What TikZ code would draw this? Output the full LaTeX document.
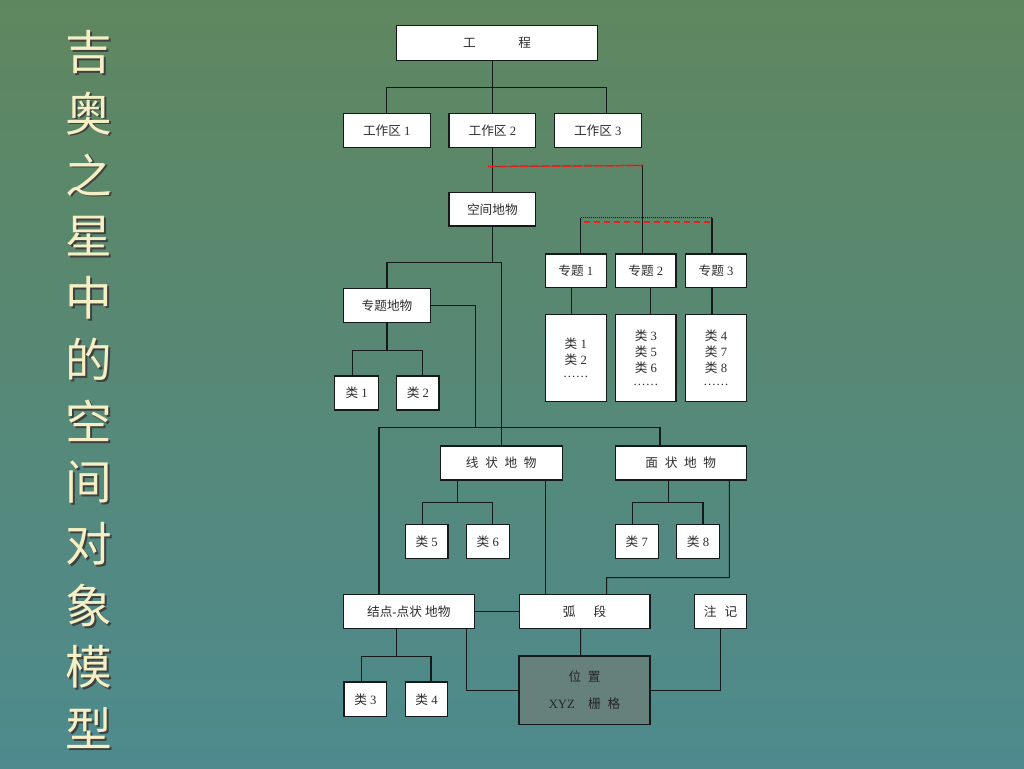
\documentclass[tikz,border=0pt]{standalone}
\usepackage{fontspec}
\setmainfont{Liberation Serif}
\newfontfamily\zh{Noto Sans CJK SC}
\usetikzlibrary{calc}
\definecolor{bgtop}{RGB}{95,135,95}
\definecolor{bgbot}{RGB}{78,138,142}
\definecolor{txt}{RGB}{45,45,45}
\definecolor{cream}{RGB}{244,239,196}
\definecolor{posfill}{RGB}{102,128,123}
\definecolor{ln}{RGB}{20,25,25}
\definecolor{dred}{RGB}{235,30,30}
\newcommand\bx[7][]{\node[box,#1,minimum width={(#5-#3)*0.75pt},minimum height={(#6-#4)*0.75pt}] (#2) at ({(#3+#5)/2},{(#4+#6)/2}) {#7};}
\newcommand\Lei[1]{{\zh 类}~#1}
\tikzset{
  box/.style={draw=ln,fill=white,line width=0.8pt,inner sep=0pt,align=center,text=txt,
    font=\fontsize{9.5}{12}\selectfont},
  conn/.style={draw=ln,line width=0.8pt},
  reddash/.style={draw=dred,line width=1.3pt,dash pattern=on 5pt off 2.5pt},
  blackdot/.style={draw=ln,line width=0.6pt,dash pattern=on 0.6pt off 0.9pt},
  faint/.style={draw=ln,line width=0.5pt,opacity=0.45},
  ttl/.style={text=cream,font=\zh\fontsize{35}{35}\selectfont,inner sep=0pt},
  ttlsh/.style={text=black!75,font=\zh\fontsize{35}{35}\selectfont,inner sep=0pt},
}
\begin{document}
\begin{tikzpicture}[x=0.75pt,y=-0.75pt]
\useasboundingbox (0,0) rectangle (1024,768);
\shade[top color=bgtop,bottom color=bgbot] (0,0) rectangle (1024,768);
% title
\foreach \c [count=\i from 0] in {吉,奥,之,星,中,的,空,间,对,象,模,型}{
  \node[ttlsh] (ts\i) at ({90.5},{53.5+\i*61.5}) {\c};
  \node[ttl] (t\i) at (89,{52+\i*61.5}) {\c};
}
% boxes
\bx{gc}{396.7}{25.7}{597.3}{60.3}{{\zh 工}\hspace{32pt}{\zh 程}}
\bx{w1}{343.3}{113.7}{430.3}{147.3}{{\zh 工作区}~1}
\bx{w2}{449}{113.7}{535.7}{147.3}{{\zh 工作区}~2}
\bx{w3}{554.3}{113.7}{641.3}{147.3}{{\zh 工作区}~3}
\bx{kj}{449}{192.3}{535.7}{226}{{\zh 空间地物}}
\bx{z1}{545.3}{254}{606.3}{287.3}{{\zh 专题}~1}
\bx{z2}{615.7}{254}{676}{287.3}{{\zh 专题}~2}
\bx{z3}{685.7}{254}{746.3}{287.3}{{\zh 专题}~3}
\bx{c1}{545.3}{314.7}{606.3}{401.3}{\Lei1\\\Lei2\\[-2pt]……}
\bx{c2}{615.7}{314.7}{676}{401.3}{\Lei3\\\Lei5\\\Lei6\\[-2pt]……}
\bx{c3}{685.7}{314.7}{746.3}{401.3}{\Lei4\\\Lei7\\\Lei8\\[-2pt]……}
\bx{zd}{343.7}{288.7}{430.3}{322.7}{{\zh 专题地物}}
\bx{a1}{334.7}{376}{378.7}{410}{\Lei1}
\bx{a2}{396.7}{376}{439}{410}{\Lei2}
\bx{xz}{440.3}{446}{562.3}{480}{{\zh 线}\hspace{5pt}{\zh 状}\hspace{5pt}{\zh 地}\hspace{5pt}{\zh 物}}
\bx{mz}{615.3}{446}{746.3}{480}{{\zh 面}\hspace{5pt}{\zh 状}\hspace{5pt}{\zh 地}\hspace{5pt}{\zh 物}}
\bx{l5}{405.3}{524.7}{448}{558.7}{\Lei5}
\bx{l6}{466.3}{524.7}{509.3}{558.7}{\Lei6}
\bx{l7}{615.3}{524.7}{658.3}{558.7}{\Lei7}
\bx{l8}{676.7}{524.7}{719.3}{558.7}{\Lei8}
\bx{jd}{343.3}{594.3}{474.3}{628.7}{{\zh 结点}-{\zh 点状}~{\zh 地物}}
\bx{hd}{519.3}{594.3}{650}{628.7}{{\zh 弧}\hspace{13.5pt}{\zh 段}}
\bx{zj}{694.3}{594.3}{746.7}{628.7}{{\zh 注}\hspace{6pt}{\zh 记}}
\bx{l3}{344}{682}{386.7}{716.7}{\Lei3}
\bx{l4}{405.3}{682}{447.7}{716.7}{\Lei4}
\bx[fill=posfill,text=black!85]{wz}{519}{656}{650}{724.7}{{\zh 位}\hspace{5pt}{\zh 置}\\[8.5pt]XYZ\hspace{10pt}{\zh 栅}\hspace{5pt}{\zh 格}}
% connectors
\draw[conn] (w2.north |- gc.south) -- (w2.north);
\draw[conn] (w1.north) -- ++(0,-26) -| ($(w3.north)+(8.5,0)$);
\draw[conn] (w2.south) -- (kj.north);
\coordinate (r1) at ($(w2.south)+(-4.3,18.7)$);
\coordinate (r2) at ($(z2.north)+(-3.5,-88)$);
\draw[conn] (r2) -- ($(z2.north)+(-3.5,0)$);
\coordinate (s1) at ($(z1.north)+(4.9,-35.7)$);
\coordinate (s2) at ($(z3.north)+(-4,-35.7)$);
\draw[conn] (s1) -- ($(z1.north)+(4.9,0)$);
\draw[conn] (s2) -- ($(z3.north)+(-4,0)$);
\draw[conn] ($(z1.south)+(-4.5,0)$) -- ($(c1.north)+(-4.5,0)$);
\draw[conn] ($(z2.south)+(4.9,0)$) -- ($(c2.north)+(4.9,0)$);
\draw[conn] ($(z3.south)+(-4,0)$) -- ($(c3.north)+(-4,0)$);
\draw[conn] (kj.south) -- ++(0,36) coordinate (kb);
\draw[conn] (zd.north) |- (kb) -| (xz.north);
\draw[conn] (zd.east) -| ++(44.7,122) coordinate (m1);
\draw[conn] ($(jd.north)+(-29.8,0)$) |- (m1) -| ($(mz.north)+(-20.8,0)$);
\draw[conn] (zd.south) -- ++(0,27.3) coordinate (zb);
\draw[conn] ($(a1.north)+(-4,0)$) |- (zb) -| ($(a2.north)+(4.85,0)$);
\draw[conn] ($(xz.south)+(-44,0)$) -- ++(0,22) coordinate (xb);
\draw[conn] ($(l5.north)+(-4.35,0)$) |- (xb) -| ($(l6.north)+(4.9,0)$);
\draw[conn] ($(xz.south)+(44,0)$) -- ($(hd.north)+(-39.35,0)$);
\draw[conn] ($(mz.south)+(-12.5,0)$) -- ++(0,22) coordinate (mb);
\draw[conn] ($(l7.north)+(-4.1,0)$) |- (mb) -| ($(l8.north)+(5,0)$);
\draw[conn] ($(mz.south)+(48.5,0)$) |- ++(-122.6,97) coordinate (mr) -- ($(hd.north)+(22,0)$);
\draw[conn] (jd.east) -- (hd.west);
\draw[conn] ($(jd.south)+(-12.1,0)$) -- ++(0,27) coordinate (jb);
\draw[conn] ($(l3.north)+(-4.3,0)$) |- (jb) -| ($(l4.north)+(4.5,0)$);
\draw[conn] ($(jd.south)+(57.9,0)$) |- (wz.west);
\draw[conn] ($(hd.south)+(-4,0)$) -- ($(wz.north)+(-3.8,0)$);
\draw[conn] (wz.east) -| (zj.south);
% dashed red overlays
\draw[faint] (r1) -- (r2);
\draw[reddash,dash pattern=on 6pt off 2pt] (r1) -- (r2);
\draw[blackdot] (s1) -- (s2);
\draw[reddash] ($(s1)+(3,4)$) -- ($(s2)+(0,4)$);
\end{tikzpicture}
\end{document}
